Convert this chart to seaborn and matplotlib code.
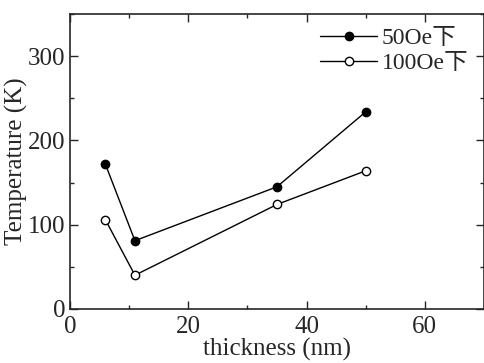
import pandas as pd
import matplotlib
matplotlib.use("Agg")
import matplotlib.pyplot as plt
import seaborn as sns
from matplotlib.ticker import MultipleLocator
from matplotlib.lines import Line2D

# --- data ---
thickness = [6, 11, 35, 50]
temp_50oe = [172, 81, 145, 234]
temp_100oe = [106, 40, 124, 164]
labels = ["50Oe下", "100Oe下"]

df = pd.DataFrame({
    "thickness": thickness * 2,
    "temp": temp_50oe + temp_100oe,
    "field": [labels[0]] * 4 + [labels[1]] * 4,
})

sns.set_style("ticks")
plt.rcParams["font.family"] = ["Liberation Serif", "Noto Sans CJK SC"]

fig = plt.figure(figsize=(4.85, 3.63), dpi=100)
ax = fig.add_axes([0.144, 0.149, 0.854, 0.812])

fills = ["black", "white"]
for lab, fc in zip(labels, fills):
    sub = df[df["field"] == lab]
    sns.lineplot(data=sub, x="thickness", y="temp", ax=ax, color="black",
                 linewidth=1.0, marker="o", markersize=6,
                 markerfacecolor=fc, markeredgecolor="black",
                 markeredgewidth=1.0, legend=False)

ax.set_xlim(0, 70)
ax.set_ylim(0, 350)
ax.xaxis.set_major_locator(MultipleLocator(20))
ax.xaxis.set_minor_locator(MultipleLocator(10))
ax.yaxis.set_major_locator(MultipleLocator(100))
ax.yaxis.set_minor_locator(MultipleLocator(50))
ax.tick_params(which="both", direction="in", top=True, right=True,
               labelsize=18)
ax.tick_params(axis="x", pad=5)
ax.tick_params(axis="y", pad=3)
ax.tick_params(which="major", length=6, width=1)
ax.tick_params(which="minor", length=3, width=1)
for s in ax.spines.values():
    s.set_linewidth(1.2)

ax.set_xlabel("thickness (nm)", fontsize=18, labelpad=0)
ax.set_ylabel("Temperature (K)", fontsize=18, labelpad=0)

handles = [Line2D([], [], color="black", lw=1, marker="o", markersize=6,
                  markerfacecolor=fc, markeredgecolor="black")
           for fc in fills]
ax.legend(handles, labels, loc="upper left", frameon=False, fontsize=17,
          handlelength=2.4, handletextpad=0.2, labelspacing=0.15,
          borderpad=0, borderaxespad=0, bbox_to_anchor=(0.605, 0.955))

fig.savefig("out.png", dpi=100)
